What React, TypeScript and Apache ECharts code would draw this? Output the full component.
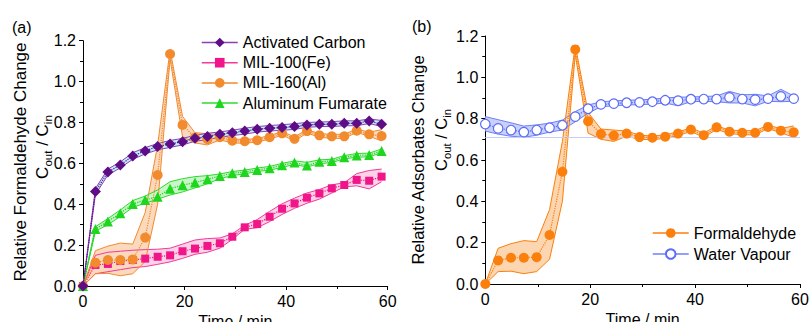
import React, { useEffect, useRef } from "react";
import * as echarts from "echarts";

const FONT = "'Liberation Sans', Arial, Helvetica, sans-serif";

const TIME = [0, 2.45, 4.9, 7.35, 9.8, 12.25, 14.7, 17.15, 19.6, 22.05, 24.5, 26.95, 29.4, 31.85, 34.3, 36.75, 39.2, 41.65, 44.1, 46.55, 49, 51.45, 53.9, 56.35, 58.8];

const X_TICKS = { min: 0, max: 60, interval: 20 };
const Y_TICKS = { min: 0, max: 1.2, interval: 0.2 };

// (a) Activated Carbon
const AC = [0, 0.462, 0.558, 0.592, 0.636, 0.661, 0.682, 0.695, 0.706, 0.723, 0.731, 0.742, 0.75, 0.758, 0.767, 0.772, 0.775, 0.78, 0.788, 0.791, 0.791, 0.796, 0.796, 0.807, 0.791];
const AC_UP = [0, 0.477, 0.572, 0.607, 0.652, 0.677, 0.697, 0.712, 0.722, 0.737, 0.747, 0.754, 0.762, 0.772, 0.78, 0.785, 0.789, 0.794, 0.8, 0.802, 0.804, 0.808, 0.808, 0.817, 0.81];
const AC_LO = [0, 0.448, 0.543, 0.578, 0.62, 0.646, 0.666, 0.678, 0.69, 0.708, 0.716, 0.728, 0.736, 0.743, 0.753, 0.758, 0.762, 0.766, 0.776, 0.78, 0.78, 0.784, 0.784, 0.795, 0.78];

// (a) MIL-100(Fe)
const FE = [0, 0.103, 0.108, 0.122, 0.127, 0.134, 0.143, 0.15, 0.17, 0.183, 0.196, 0.209, 0.241, 0.287, 0.303, 0.339, 0.378, 0.404, 0.432, 0.453, 0.478, 0.494, 0.519, 0.515, 0.535];
const FE_UP = [0, 0.15, 0.165, 0.17, 0.175, 0.178, 0.18, 0.185, 0.205, 0.225, 0.232, 0.235, 0.255, 0.297, 0.325, 0.365, 0.402, 0.43, 0.455, 0.472, 0.495, 0.505, 0.55, 0.565, 0.572];
const FE_LO = [0, 0.06, 0.07, 0.08, 0.09, 0.095, 0.106, 0.118, 0.135, 0.155, 0.165, 0.185, 0.228, 0.278, 0.285, 0.315, 0.35, 0.38, 0.405, 0.425, 0.455, 0.485, 0.49, 0.475, 0.51];

// (a) MIL-160(Al) and (b) Formaldehyde
const AL = [0, 0.114, 0.127, 0.127, 0.13, 0.237, 0.543, 1.135, 0.788, 0.726, 0.718, 0.728, 0.711, 0.708, 0.713, 0.728, 0.747, 0.72, 0.758, 0.737, 0.732, 0.732, 0.76, 0.742, 0.734];
const AL_UP = [0, 0.173, 0.195, 0.21, 0.205, 0.36, 0.69, 1.155, 0.83, 0.75, 0.745, 0.74, 0.72, 0.716, 0.722, 0.736, 0.755, 0.73, 0.765, 0.745, 0.742, 0.742, 0.768, 0.752, 0.765];
const AL_LO = [0, 0.06, 0.062, 0.05, 0.06, 0.12, 0.4, 1.11, 0.73, 0.7, 0.69, 0.715, 0.7, 0.698, 0.705, 0.718, 0.738, 0.71, 0.748, 0.728, 0.722, 0.722, 0.752, 0.732, 0.71];

// (a) Aluminum Fumarate
const AF = [0, 0.279, 0.316, 0.356, 0.401, 0.421, 0.437, 0.476, 0.493, 0.506, 0.522, 0.538, 0.551, 0.558, 0.568, 0.576, 0.591, 0.604, 0.589, 0.608, 0.612, 0.63, 0.639, 0.641, 0.661];
const AF_UP = [0, 0.29, 0.33, 0.372, 0.418, 0.44, 0.47, 0.51, 0.525, 0.535, 0.54, 0.548, 0.56, 0.567, 0.577, 0.585, 0.6, 0.612, 0.605, 0.617, 0.62, 0.638, 0.648, 0.65, 0.67];
const AF_LO = [0, 0.268, 0.3, 0.34, 0.385, 0.405, 0.425, 0.445, 0.46, 0.48, 0.5, 0.525, 0.54, 0.549, 0.56, 0.567, 0.58, 0.595, 0.582, 0.598, 0.604, 0.622, 0.63, 0.632, 0.652];

// (b) Water Vapour
const WV = [0.774, 0.753, 0.745, 0.735, 0.745, 0.756, 0.768, 0.81, 0.848, 0.869, 0.873, 0.877, 0.879, 0.882, 0.889, 0.887, 0.894, 0.895, 0.895, 0.903, 0.895, 0.892, 0.897, 0.908, 0.897];
const WV_UP = [0.81, 0.795, 0.78, 0.764, 0.77, 0.778, 0.793, 0.834, 0.866, 0.882, 0.886, 0.889, 0.891, 0.894, 0.9, 0.904, 0.905, 0.907, 0.91, 0.932, 0.915, 0.918, 0.91, 0.942, 0.91];
const WV_LO = [0.74, 0.725, 0.715, 0.71, 0.72, 0.735, 0.745, 0.785, 0.826, 0.858, 0.862, 0.866, 0.868, 0.87, 0.876, 0.862, 0.882, 0.884, 0.882, 0.876, 0.876, 0.862, 0.884, 0.882, 0.884];

const WV_BASELINE = 0.707;

const LEGEND_A = ["Activated Carbon", "MIL-100(Fe)", "MIL-160(Al)", "Aluminum Fumarate"];
const LEGEND_B = ["Formaldehyde", "Water Vapour"];

function pairs(vals: number[]) {
  return TIME.map((t, i) => [t, vals[i]]);
}

function band(id: string, axis: number, lo: number[], up: number[], edge: string, fill: string) {
  const pts = TIME.map((t, i) => [t, lo[i], up[i]]);
  return [
    {
      name: id + " band",
      type: "custom",
      xAxisIndex: axis,
      yAxisIndex: axis,
      data: pts,
      encode: { x: 0, y: [1, 2] },
      silent: true,
      z: 1,
      renderItem: (params: any, api: any) => {
        if (params.dataIndex !== 0) return null;
        const top = pts.map((p) => api.coord([p[0], p[2]]));
        const bot = pts.map((p) => api.coord([p[0], p[1]])).reverse();
        return { type: "polygon", shape: { points: top.concat(bot) }, style: { fill, stroke: "none" } };
      },
    },
    {
      name: id + " upper",
      type: "line",
      xAxisIndex: axis,
      yAxisIndex: axis,
      data: pairs(up),
      symbol: "none",
      silent: true,
      lineStyle: { color: edge, width: 1 },
      z: 2,
    },
    {
      name: id + " lower",
      type: "line",
      xAxisIndex: axis,
      yAxisIndex: axis,
      data: pairs(lo),
      symbol: "none",
      silent: true,
      lineStyle: { color: edge, width: 1 },
      z: 2,
    },
  ];
}

function mean(name: string, axis: number, vals: number[], symbol: string, size: number, color: string, lineColor: string, extra: any = {}) {
  return {
    name,
    type: "line",
    xAxisIndex: axis,
    yAxisIndex: axis,
    data: pairs(vals),
    symbol,
    symbolSize: size,
    itemStyle: { color, ...(extra.itemStyle || {}) },
    lineStyle: { color: lineColor, width: 1.2, type: "dotted" },
    z: 5,
  };
}

function xAxis(gridIndex: number) {
  return {
    type: "value",
    gridIndex,
    ...X_TICKS,
    name: "Time / min",
    nameLocation: "middle",
    nameGap: 21,
    nameTextStyle: { fontSize: 16, color: "#000", fontFamily: FONT },
    axisLine: { show: true, lineStyle: { color: "#000", width: 1 } },
    axisTick: { show: true, inside: false, length: 4, lineStyle: { color: "#000" } },
    minorTick: { show: true, splitNumber: 2, length: 3, lineStyle: { color: "#000" } },
    splitLine: { show: false },
    axisLabel: { fontSize: 16, color: "#000", fontFamily: FONT, margin: 7 },
  };
}

function yAxis(gridIndex: number) {
  return {
    type: "value",
    gridIndex,
    ...Y_TICKS,
    axisLine: { show: true, lineStyle: { color: "#000", width: 1 } },
    axisTick: { show: true, inside: false, length: 4, lineStyle: { color: "#000" } },
    minorTick: { show: true, splitNumber: 2, length: 3, lineStyle: { color: "#000" } },
    splitLine: { show: false },
    axisLabel: { fontSize: 16, color: "#000", fontFamily: FONT, margin: 7, formatter: (v: number) => v.toFixed(1) },
  };
}

function subRich(size: number) {
  return {
    n: { fontSize: size, fontFamily: FONT, color: "#000", lineHeight: size + 6 },
    s: { fontSize: size * 0.68, fontFamily: FONT, color: "#000", lineHeight: 12, verticalAlign: "bottom" },
  };
}

function vText(x: number, y: number, text: string, size: number, rich?: any) {
  return {
    type: "text",
    x,
    y,
    rotation: Math.PI / 2,
    style: {
      text,
      fontSize: size,
      fontFamily: FONT,
      fill: "#000",
      align: "center",
      verticalAlign: "middle",
      rich,
    },
  };
}

export default function App() {
  const ref = useRef<HTMLDivElement>(null);
  useEffect(() => {
    if (!ref.current) return;
    const chart = echarts.init(ref.current, undefined, { renderer: "svg" });
    const C = {
      ac: "#5e0d86", acEdge: "#8b3fb5", acFill: "#bfeef8",
      fe: "#f0168a", feEdge: "#f2399c", feFill: "#fcd3e6",
      al: "#f28a2e", alEdge: "#f28a2e", alFill: "#fbd9bd",
      af: "#1ed61e", afEdge: "#2bdc2b", afFill: "#c9f5c9",
      fo: "#fb7f0c", foEdge: "#fb7f0c", foFill: "#fcd6b0",
      wv: "#5b6cf7", wvEdge: "#6f7ff8", wvFill: "#c9d1fb",
    };
    const legendCommon = {
      orient: "vertical",
      itemWidth: 36,
      itemHeight: 12,
      itemGap: 4.2,
      selectedMode: false,
      textStyle: { fontSize: 16, color: "#000", fontFamily: FONT },
      lineStyle: { type: "solid", width: 1.5 },
    };
    const wvBand = band("wv", 1, WV_LO, WV_UP, C.wvEdge, C.wvFill);
    (wvBand[2] as any).markLine = {
      silent: true,
      symbol: "none",
      label: { show: false },
      lineStyle: { color: "#c5cdfc", type: "solid", width: 1 },
      data: [{ yAxis: WV_BASELINE }],
    };
    const option: any = {
      animation: false,
      backgroundColor: "#fff",
      grid: [
        { left: 83, top: 40.7, width: 304.7, height: 245.3, containLabel: false, outerBoundsMode: "none" },
        { left: 485.3, top: 36, width: 314.7, height: 248, containLabel: false, outerBoundsMode: "none" },
      ],
      xAxis: [xAxis(0), xAxis(1)],
      yAxis: [yAxis(0), yAxis(1)],
      legend: [
        {
          ...legendCommon,
          left: 196,
          top: 29.5,
          data: [
            { name: LEGEND_A[0], lineStyle: { color: C.acEdge, type: "solid" } },
            { name: LEGEND_A[1], lineStyle: { color: C.feEdge, type: "solid" } },
            { name: LEGEND_A[2], lineStyle: { color: C.alEdge, type: "solid" } },
            { name: LEGEND_A[3], lineStyle: { color: C.afEdge, type: "solid" } },
          ],
        },
        {
          ...legendCommon,
          left: 647,
          top: 220,
          itemGap: 5,
          data: [
            { name: LEGEND_B[0], lineStyle: { color: C.foEdge, type: "solid" } },
            { name: LEGEND_B[1], lineStyle: { color: C.wvEdge, type: "solid" } },
          ],
        },
      ],
      graphic: [
        { type: "text", x: 12, y: 27, style: { text: "(a)", fontSize: 16, fontFamily: FONT, fill: "#000", verticalAlign: "middle" } },
        { type: "text", x: 412, y: 26, style: { text: "(b)", fontSize: 16, fontFamily: FONT, fill: "#000", verticalAlign: "middle" } },
        vText(20, 162, "Relative Formaldehyde Change", 17),
        vText(42, 147, "{n|C}{s|out}{n| / C}{s|in}", 17, subRich(17)),
        vText(418, 160, "Relative Adsorbates Change", 16.5),
        vText(441, 140, "{n|C}{s|out}{n| / C}{s|in}", 16.5, subRich(16.5)),
      ],
      series: [
        ...band("fe", 0, FE_LO, FE_UP, C.feEdge, C.feFill),
        ...band("al", 0, AL_LO, AL_UP, C.alEdge, C.alFill),
        ...band("af", 0, AF_LO, AF_UP, C.afEdge, C.afFill),
        ...band("ac", 0, AC_LO, AC_UP, C.acEdge, C.acFill),
        mean(LEGEND_A[1], 0, FE, "rect", 8, C.fe, C.fe),
        mean(LEGEND_A[2], 0, AL, "circle", 10, C.al, C.al),
        mean(LEGEND_A[3], 0, AF, "triangle", 10, C.af, C.af),
        mean(LEGEND_A[0], 0, AC, "diamond", 11, C.ac, C.ac),
        ...wvBand,
        ...band("fo", 1, AL_LO, AL_UP, C.foEdge, C.foFill),
        mean(LEGEND_B[1], 1, WV, "circle", 9.5, "#fff", C.wv, { itemStyle: { borderColor: C.wv, borderWidth: 1.2 } }),
        mean(LEGEND_B[0], 1, AL, "circle", 10, C.fo, C.fo),
      ],
    };
    chart.setOption(option);
    return () => chart.dispose();
  }, []);
  return <div ref={ref} style={{ position: "fixed", left: 0, top: 0, width: 809, height: 322 }} />;
}
